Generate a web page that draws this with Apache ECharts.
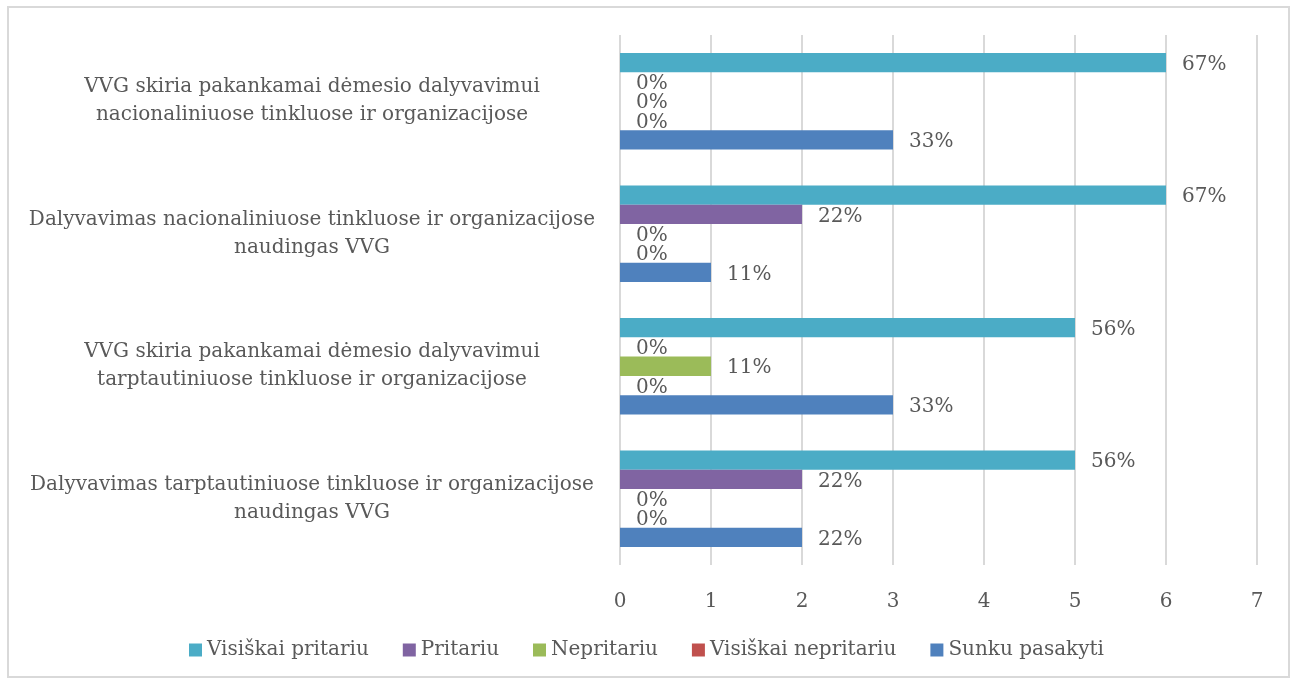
<!DOCTYPE html>
<html>
<head>
<meta charset="utf-8">
<script src="https://cdn.jsdelivr.net/npm/echarts@6/dist/echarts.min.js"></script>
<style>
    html, body { margin: 0; padding: 0; background: #fff; }
    #frame {
        position: absolute; left: 7px; top: 6px; width: 1283px; height: 672px;
        border: 2px solid #d9d9d9; box-sizing: border-box;
    }
    #main { position: absolute; left: 0; top: 0; width: 1293px; height: 682px; }
</style>
</head>
<body>
<div id="frame"></div>
<div id="main"></div>
<script>
// klausimai (iš viršaus į apačią)
const categories = [
    'VVG skiria pakankamai dėmesio dalyvavimui\nnacionaliniuose tinkluose ir organizacijose',
    'Dalyvavimas nacionaliniuose tinkluose ir organizacijose\nnaudingas VVG',
    'VVG skiria pakankamai dėmesio dalyvavimui\ntarptautiniuose tinkluose ir organizacijose',
    'Dalyvavimas tarptautiniuose tinkluose ir organizacijose\nnaudingas VVG'
];
const seriesNames = ['Visiškai pritariu', 'Pritariu', 'Nepritariu', 'Visiškai nepritariu', 'Sunku pasakyti'];
const colors = ['#4BACC6', '#8064A2', '#9BBB59', '#C0504D', '#4F81BD'];

// atsakymų skaičius
const visiskaiPritariu = [6, 6, 5, 5];
const pritariu = [0, 2, 0, 2];
const nepritariu = [0, 0, 1, 0];
const visiskaiNepritariu = [0, 0, 0, 0];
const sunkuPasakyti = [3, 1, 3, 2];

// procentai etiketėms
const pctVisiskaiPritariu = ['67%', '67%', '56%', '56%'];
const pctPritariu = ['0%', '22%', '0%', '22%'];
const pctNepritariu = ['0%', '0%', '11%', '0%'];
const pctVisiskaiNepritariu = ['0%', '0%', '0%', '0%'];
const pctSunkuPasakyti = ['33%', '11%', '33%', '22%'];

const xTicks = [0, 1, 2, 3, 4, 5, 6, 7];

const values = [visiskaiPritariu, pritariu, nepritariu, visiskaiNepritariu, sunkuPasakyti];
const pcts = [pctVisiskaiPritariu, pctPritariu, pctNepritariu, pctVisiskaiNepritariu, pctSunkuPasakyti];

const font = '"DejaVu Serif", "Liberation Serif", serif';
const textColor = '#595959';
const fs = 20;

let series = seriesNames.map((name, i) => ({
    name: name,
    type: 'bar',
    data: values[i],
    barGap: '0%',
    barCategoryGap: '27%',
    itemStyle: { color: colors[i] },
    label: {
        show: true,
        position: 'right',
        distance: 16,
        offset: [0, 2],
        color: textColor,
        fontFamily: font,
        fontSize: fs,
        formatter: p => pcts[i][p.dataIndex]
    }
}));

let option = {
    animation: false,
    textStyle: { fontFamily: font },
    grid: { left: 620, right: 36, top: 35, bottom: 117, containLabel: false },
    legend: {
        bottom: 17,
        left: 'center',
        itemWidth: 13,
        itemHeight: 13,
        itemGap: 34,
        icon: 'rect',
        textStyle: { color: textColor, fontFamily: font, fontSize: fs },
        data: seriesNames
    },
    xAxis: {
        type: 'value',
        min: xTicks[0],
        max: xTicks[xTicks.length - 1],
        interval: 1,
        axisLine: { show: false },
        axisTick: { show: false },
        splitLine: { lineStyle: { color: '#d9d9d9', width: 2 } },
        axisLabel: { color: textColor, fontFamily: font, fontSize: fs, margin: 27 }
    },
    yAxis: {
        type: 'category',
        inverse: true,
        data: categories,
        axisLine: { show: false },
        axisTick: { show: false },
        axisLabel: {
            color: textColor, fontFamily: font, fontSize: fs, lineHeight: 28,
            align: 'center', margin: 308
        }
    },
    series: series
};

var myChart = echarts.init(document.getElementById('main'));
myChart.setOption(option);
</script>
</body>
</html>
